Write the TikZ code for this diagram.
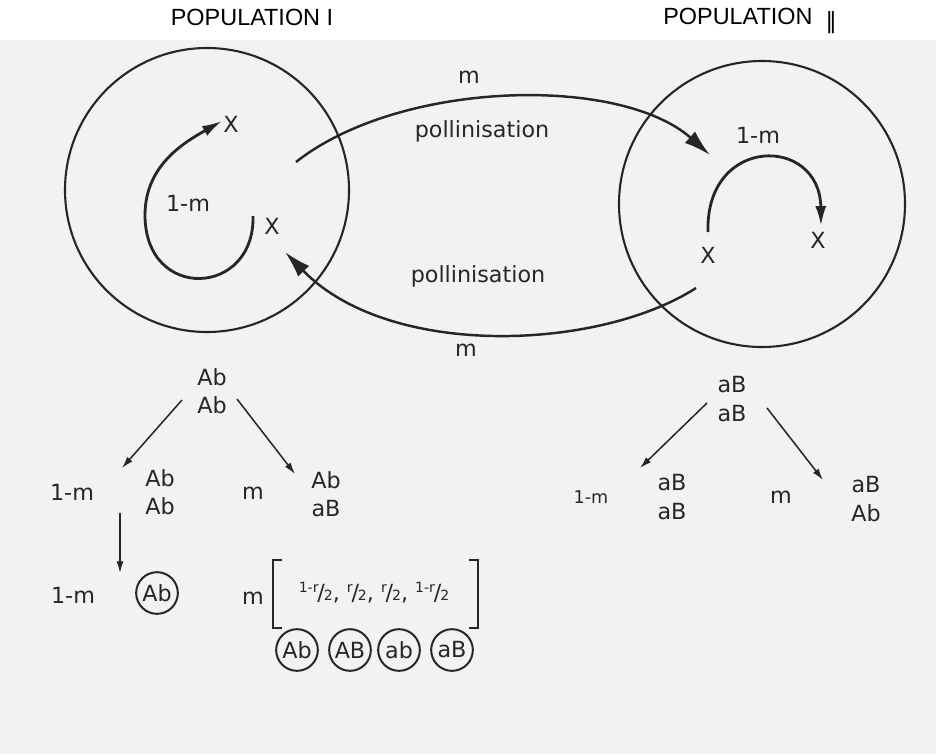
\documentclass[tikz,border=0pt]{standalone}
\usepackage{fontspec}
\setmainfont{DejaVu Sans}
\newfontfamily\titlefont{Liberation Sans}
\usetikzlibrary{arrows.meta}
\definecolor{ink}{gray}{0.15}
\definecolor{paper}{gray}{0.95}
\newcommand\slfrac[2]{\raisebox{.65ex}{\fontsize{12}{12}\selectfont#1}\kern-.05em/\kern-.05em{\fontsize{12}{12}\selectfont#2}}

\begin{document}
\begin{tikzpicture}[x=0.03cm,y=-0.03cm,every node/.style={font=\fontsize{19}{24}\selectfont,text=ink,inner sep=1pt},title/.style={font=\titlefont\fontsize{20}{24}\selectfont,text=black},pair/.style={align=center},small/.style={font=\fontsize{15}{17}\selectfont},gamete/.style={circle,draw=ink,line width=1.7pt,minimum size=1.25cm,inner sep=0pt},popcircle/.style={draw=ink,line width=1.8pt},selfarrow/.style={draw=ink,line width=2.4pt,-{Latex[length=6mm,width=3.3mm]}},pollen/.style={draw=ink,line width=2.1pt,-{Latex[length=8mm,width=4.6mm]}},branch/.style={draw=ink,line width=1.3pt,-{Latex[length=3.5mm,width=2.1mm]}},bracketline/.style={draw=ink,line width=1.2pt}]
\fill[white](0,0)rectangle(936,754);\fill[paper](0,40)rectangle(936,754);
\useasboundingbox(0,0)rectangle(936,754);
% the two populations
\node[title](popI) at (252,17){POPULATION I};
\node[title](popII) at (750,21){POPULATION\ \ \raisebox{-3.5pt}{\normalfont\fontsize{19}{19}\selectfont ‖}};
\draw[popcircle](207,190) circle[radius=142];
\draw[popcircle](762,204) circle[radius=143];
\node(xIa) at (231,124){X};
\node(xIb) at (272,226){X};
\node(oneMI) at (188,203){1-m};
\node(xIIa) at (708,255){X};
\node(xIIb) at (818,240){X};
\node(oneMII) at (758,135){1-m};
\coordinate(spIs) at (253,216);\coordinate(spIe) at (222,121);
\coordinate(spIIs) at (708,232);\coordinate(spIIe) at (821,226);
\draw[selfarrow](spIs) .. controls (255,297) and (145,302) .. (145,215) .. controls (145,165) and (185,142) .. (spIe);
\draw[selfarrow](spIIs) .. controls (705,135) and (820,135) .. (spIIe);
% pollen flow
\node(mTop) at (469,77){m};
\node(pollTop) at (482,131){pollinisation};
\node(pollBot) at (478,276){pollinisation};
\node(mBot) at (466,350){m};
\coordinate(goS) at (296,162);\coordinate(goE) at (710,155);
\coordinate(backS) at (696,288);\coordinate(backE) at (285,252);
\draw[pollen](goS) .. controls (400,80) and (620,75) .. (goE);
\draw[pollen](backS) .. controls (600,350) and (390,360) .. (backE);
% gametes of population I
\node[pair](abI) at (212,391){Ab\\Ab};
\node(oneMIb) at (72,492){1-m};
\node[pair](abIl) at (160,492){Ab\\Ab};
\node(mIb) at (253,493){m};
\node[pair](abIr) at (326,494){Ab\\aB};
\coordinate(brIl) at (182,400);\coordinate(tipIl) at (122,468);
\coordinate(brIr) at (237,399);\coordinate(tipIr) at (295,474);
\coordinate(downS) at (120,513);\coordinate(downE) at (120,573);
\draw[branch](brIl)--(tipIl);\draw[branch](brIr)--(tipIr);\draw[branch](downS)--(downE);
\node(oneMIc) at (73,595){1-m};
\node[gamete](gAb) at (157,593){Ab};
\node(mIc) at (253,598){m};
\node(freq) at (374,593){\slfrac{1-r}{2}, \slfrac{r}{2}, \slfrac{r}{2}, \slfrac{1-r}{2}};
\draw[bracketline](282,560)--(273,560)--(273,628)--(282,628);
\draw[bracketline](469,560)--(478,560)--(478,628)--(469,628);
\node[gamete](gAbr) at (297,650){Ab};
\node[gamete](gAB) at (350,650){AB};
\node[gamete](gab) at (399,650){ab};
\node[gamete](gaB) at (452,650){aB};
% gametes of population II
\node[pair](aBII) at (732,399){aB\\aB};
\node[small](oneMIIb) at (591,497){1-m};
\node[pair](aBIIl) at (672,497){aB\\aB};
\node(mIIb) at (781,497){m};
\node[pair](aBIIr) at (866,499){aB\\Ab};
\coordinate(brIIl) at (707,403);\coordinate(tipIIl) at (640,468);
\coordinate(brIIr) at (767,408);\coordinate(tipIIr) at (823,480);
\draw[branch](brIIl)--(tipIIl);\draw[branch](brIIr)--(tipIIr);
\end{tikzpicture}
\end{document}
